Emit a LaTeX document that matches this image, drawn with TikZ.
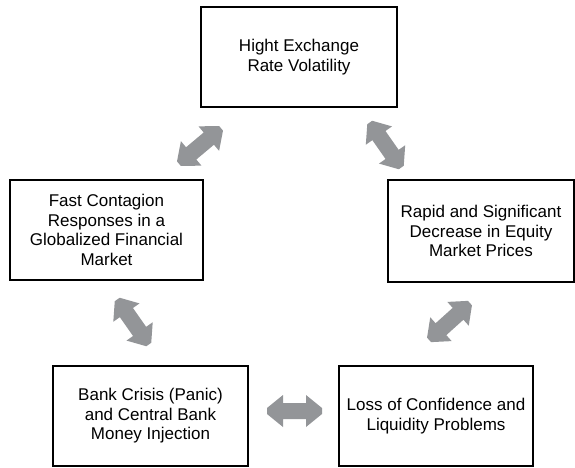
\documentclass[tikz,border=0pt]{standalone}
\usepackage{fontspec}
\setmainfont{Liberation Sans}
\definecolor{arrowgray}{HTML}{939598}
\tikzset{
  box/.style={draw=black, line width=2pt, fill=white, align=center, inner sep=0pt,
    font=\fontsize{17}{19.5}\selectfont},
  dblarrow/.pic={\fill[arrowgray] (-27.5,-3) -- (-11.5,-16) -- (-11.5,-8) -- (11.5,-8) -- (11.5,-16) -- (27.5,-3) -- (27.5,3) -- (11.5,16) -- (11.5,8) -- (-11.5,8) -- (-11.5,16) -- (-27.5,3) -- cycle;}
}
\begin{document}
\begin{tikzpicture}[x=1pt,y=1pt]
\useasboundingbox (0,0) rectangle (575,467);
\node[box, minimum width=196pt, minimum height=100pt] (top) at (299,410) {Hight Exchange\\Rate Volatility};
\node[box, minimum width=193pt, minimum height=100pt] (left) at (106.5,237) {Fast Contagion\\Responses in a\\Globalized Financial\\Market};
\node[box, minimum width=186pt, minimum height=102pt] (right) at (481,236) {Rapid and Significant\\Decrease in Equity\\Market Prices};
\node[box, minimum width=195pt, minimum height=100pt] (bl) at (150.5,51) {Bank Crisis (Panic)\\and Central Bank\\Money Injection};
\node[box, minimum width=194pt, minimum height=100pt] (br) at (436,51) {Loss of Confidence and\\Liquidity Problems};
\coordinate (aA) at (200,321);
\coordinate (aB) at (385.5,322);
\coordinate (aC) at (133,145);
\coordinate (aD) at (449.5,145.5);
\coordinate (aE) at (294.5,56);
\pic[rotate=40] at (aA) {dblarrow};
\pic[rotate=-55] at (aB) {dblarrow};
\pic[rotate=-55] at (aC) {dblarrow};
\pic[rotate=42] at (aD) {dblarrow};
\pic at (aE) {dblarrow};
\end{tikzpicture}
\end{document}
